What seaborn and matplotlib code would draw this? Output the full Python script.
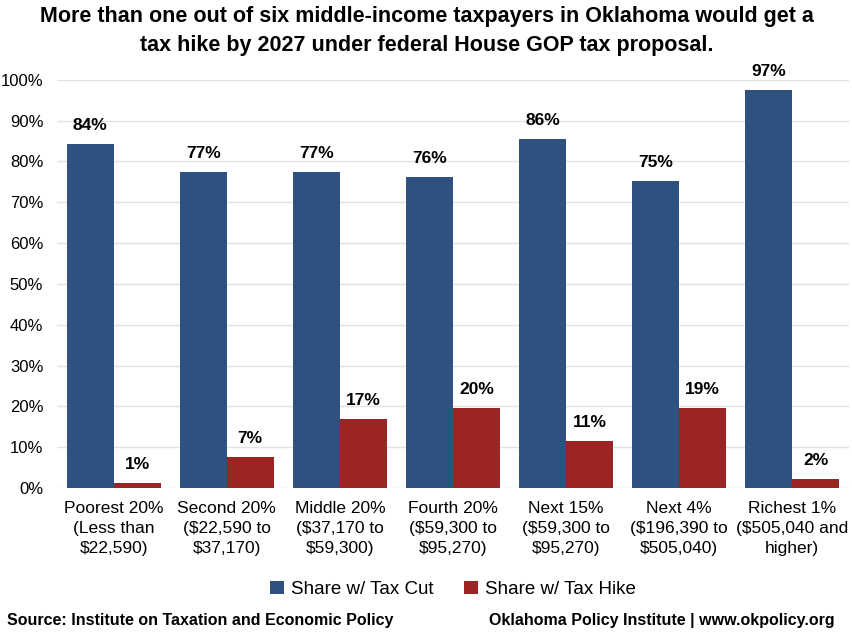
import matplotlib
matplotlib.use("Agg")
import matplotlib.pyplot as plt
import seaborn as sns
import pandas as pd

# --- data ---
groups = [
    "Poorest 20%\n(Less than\n$22,590)",
    "Second 20%\n($22,590 to\n$37,170)",
    "Middle 20%\n($37,170 to\n$59,300)",
    "Fourth 20%\n($59,300 to\n$95,270)",
    "Next 15%\n($59,300 to\n$95,270)",
    "Next 4%\n($196,390 to\n$505,040)",
    "Richest 1%\n($505,040 and\nhigher)",
]
tax_cut = [84.2, 77.5, 77.5, 76.2, 85.5, 75.2, 97.5]
tax_hike = [1.3, 7.5, 16.9, 19.6, 11.5, 19.6, 2.2]
cut_labels = ["84%", "77%", "77%", "76%", "86%", "75%", "97%"]
hike_labels = ["1%", "7%", "17%", "20%", "11%", "19%", "2%"]
series = ["Share w/ Tax Cut", "Share w/ Tax Hike"]

df = pd.DataFrame({"group": groups * 2,
                   "series": [series[0]] * 7 + [series[1]] * 7,
                   "value": tax_cut + tax_hike})

sns.set_theme(style="white")
plt.rcParams["font.family"] = ["Liberation Sans", "DejaVu Sans"]
plt.rcParams["text.color"] = "black"
plt.rcParams["xtick.color"] = "black"
plt.rcParams["ytick.color"] = "black"

fig = plt.figure(figsize=(8.53, 6.33), dpi=100)
ax = fig.add_axes([0.067, 0.229, 0.928, 0.645])

palette = {series[0]: "#2f5180", series[1]: "#9a2523"}
sns.barplot(data=df, x="group", y="value", hue="series", palette=palette,
            width=0.83, saturation=1, ax=ax, edgecolor="none")

for cont, labs in zip(ax.containers, [cut_labels, hike_labels]):
    ax.bar_label(cont, labels=labs, padding=8, fontsize=12.5, fontweight="bold",
                 color="black")

ax.set_ylim(0, 100)
ax.set_yticks(range(0, 101, 10))
ax.set_yticklabels([f"{v}%" for v in range(0, 101, 10)], fontsize=12)
ax.tick_params(axis="x", labelsize=12.5, pad=9, length=0)
ax.tick_params(axis="y", length=0, pad=10)
for t in ax.get_xticklabels():
    t.set_linespacing(1.45)
ax.set_xlabel("")
ax.set_ylabel("")
ax.grid(axis="y", color="#e2e2e2", linewidth=1)
ax.set_axisbelow(True)
for s in ax.spines.values():
    s.set_visible(False)

ax.legend(loc="center", bbox_to_anchor=(0.5, -0.248), ncol=2,
          frameon=False, fontsize=13.5, handlelength=0.75, handleheight=0.75,
          handletextpad=0.4, columnspacing=1.6)

fig.text(0.5, 0.99, "More than one out of six middle-income taxpayers in Oklahoma would get a\n"
         "tax hike by 2027 under federal House GOP tax proposal.",
         ha="center", va="top", fontsize=15.5, fontweight="bold", linespacing=1.5)
fig.text(0.008, 0.008, "Source: Institute on Taxation and Economic Policy",
         ha="left", va="bottom", fontsize=11.5, fontweight="bold")
fig.text(0.978, 0.008, "Oklahoma Policy Institute | www.okpolicy.org",
         ha="right", va="bottom", fontsize=11.5, fontweight="bold")

fig.savefig("out.png", dpi=100)
